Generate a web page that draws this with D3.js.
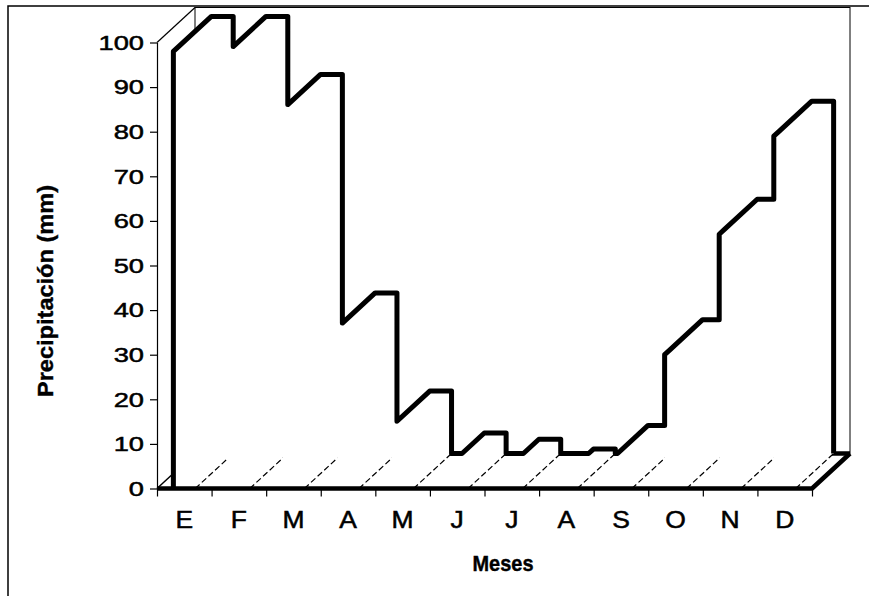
<!DOCTYPE html>
<html>
<head>
<meta charset="utf-8">
<script src="https://cdn.jsdelivr.net/npm/d3@7"></script>
<style>
  body { margin: 0; background: #fff; }
  text { font-family: "Liberation Sans", Arial, sans-serif; fill: #000; }
</style>
</head>
<body>
<script>
// datos: precipitación media mensual (mm)
const meses = ["E", "F", "M", "A", "M", "J", "J", "A", "S", "O", "N", "D"];
const precipitacion = [98, 98, 85, 36, 14, 4.6, 3.2, 1.0, 6.3, 30, 57, 79];
const yTicks = [0, 10, 20, 30, 40, 50, 60, 70, 80, 90, 100];

const svgWidth = 869, svgHeight = 596;
// front face of the 3d box and the depth offset
const x0 = 157, x1 = 812, yBottom = 488.5, yTopv = 42.5;
const dx = 38, dy = -35;

const svg = d3.select("body").append("svg")
  .attr("width", svgWidth)
  .attr("height", svgHeight);

// scales
const x = d3.scaleBand()
  .domain(d3.range(meses.length))
  .range([x0, x1])
  .paddingInner(0.6)
  .paddingOuter(0.3);
const xEdge = d3.scaleLinear().domain([0, meses.length]).range([x0, x1]);
const y = d3.scaleLinear().domain([0, 100]).range([yBottom, yTopv]);

const yBack = y(0) + dy;

// chart border (scan only shows left + top)
svg.append("path")
  .attr("d", "M8," + svgHeight + " V6 H" + svgWidth)
  .attr("fill", "none").attr("stroke", "#000").attr("stroke-width", 1.5);

/*
 *  W A L L S  /  F L O O R
 */
const walls = svg.append("g").attr("fill", "none").attr("stroke", "#000");
// back wall
walls.append("rect")
  .attr("x", x0 + dx).attr("y", y(100) + dy)
  .attr("width", x1 - x0).attr("height", y(0) - y(100))
  .attr("stroke-width", 1);
// left wall top edge
walls.append("line")
  .attr("x1", x0).attr("y1", y(100)).attr("x2", x0 + dx).attr("y2", y(100) + dy)
  .attr("stroke-width", 1.2);
// floor left edge
walls.append("line")
  .attr("x1", x0).attr("y1", y(0)).attr("x2", x0 + dx).attr("y2", yBack)
  .attr("stroke-width", 1.5);
// floor back edge (thick)
walls.append("line")
  .attr("x1", x0 + dx).attr("y1", yBack).attr("x2", x1 + dx).attr("y2", yBack)
  .attr("stroke-width", 4.5);

/*
 *  C O L U M N S
 */
const cols = precipitacion.map((v, i) => ({ A: x(i), B: x(i) + x.bandwidth(), t: y(v) }));

const colG = svg.append("g");
cols.forEach(c => {
  const g = colG.append("g");
  g.append("polygon")
    .attr("points", [
      [c.A, y(0)], [c.A, c.t], [c.A + dx, c.t + dy],
      [c.B + dx, c.t + dy], [c.B + dx, yBack], [c.B, y(0)]
    ].map(p => p.join(",")).join(" "))
    .attr("fill", "#fff");
  // bottom edge of the side face, faint in the scan
  g.append("line")
    .attr("x1", c.B).attr("y1", y(0))
    .attr("x2", c.B + dx).attr("y2", yBack)
    .attr("stroke", "#000").attr("stroke-width", 1.2)
    .attr("stroke-dasharray", "6,3");
});

// upper silhouette of all the columns (clamped to the floor back edge)
function topAt(c, px) {
  if (px < c.A || px > c.B + dx) return null;
  return px <= c.A + dx ? c.t + (px - c.A) * dy / dx : c.t + dy;
}
function envelope(px) {
  let e = yBack;
  cols.forEach(c => {
    const t = topAt(c, px);
    if (t !== null && t < e) e = t;
  });
  return e;
}
let bx = [];
cols.forEach((c, i) => {
  bx.push(c.A, c.A + dx, c.B + dx);
  const xf = c.A + (yBack - c.t) * dx / dy;
  if (xf > c.A && xf < c.A + dx) bx.push(xf);
  if (i > 0) {
    const p = cols[i - 1];
    const xs = c.A + ((p.t + dy) - c.t) * dx / dy;
    if (xs > c.A && xs < p.B + dx) bx.push(xs);
  }
});
bx.sort((a, b) => a - b);
const pts = [[cols[0].A, y(0)]];
bx.forEach(px => {
  const l = envelope(px - 1e-6), r = envelope(px + 1e-6);
  pts.push([px, l]);
  if (Math.abs(l - r) > 0.01) pts.push([px, r]);
});

svg.append("path")
  .attr("d", d3.line()(pts))
  .attr("fill", "none")
  .attr("stroke", "#000")
  .attr("stroke-width", 5)
  .attr("stroke-linejoin", "round");

// floor front + right edge (thick)
svg.append("path")
  .attr("d", d3.line()([[x0, y(0)], [x1, y(0)], [x1 + dx, yBack]]))
  .attr("fill", "none").attr("stroke", "#000").attr("stroke-width", 4.5)
  .attr("stroke-linejoin", "round");

/*
 *  A X I S
 */
const yAxis = svg.append("g")
  .attr("transform", "translate(" + x0 + ",0)")
  .call(d3.axisLeft(y).tickValues(yTicks).tickSize(7).tickSizeOuter(0).tickPadding(3));
yAxis.select(".domain").attr("stroke-width", 1.2);
yAxis.selectAll(".tick line").attr("stroke-width", 1.2);
yAxis.selectAll(".tick text")
  .attr("font-size", 21)
  .attr("font-family", null)
  .attr("stroke", "#000").attr("stroke-width", 0.5)
  .attr("transform", "scale(1.3,1)");

// tick marks on category boundaries
const xTicks = svg.append("g")
  .attr("transform", "translate(0," + y(0) + ")")
  .call(d3.axisBottom(xEdge).tickValues(d3.range(meses.length + 1)).tickSize(8).tickFormat(""));
xTicks.select(".domain").remove();
xTicks.selectAll(".tick line").attr("stroke-width", 1.2);

// month labels at band centres
const xLabels = svg.append("g")
  .attr("transform", "translate(0," + y(0) + ")")
  .call(d3.axisBottom(x).tickSize(0).tickPadding(23).tickFormat(i => meses[i]));
xLabels.select(".domain").remove();
xLabels.selectAll(".tick text")
  .attr("font-size", 23)
  .attr("font-family", null)
  .attr("stroke", "#000").attr("stroke-width", 0.5)
  .attr("transform", "scale(1.15,1)");

// axis titles
svg.append("text")
  .attr("transform", "translate(53,291) rotate(-90)")
  .attr("text-anchor", "middle")
  .attr("font-size", 22)
  .attr("font-weight", "bold")
  .attr("stroke", "#000").attr("stroke-width", 0.4)
  .attr("textLength", 212)
  .attr("lengthAdjust", "spacingAndGlyphs")
  .text("Precipitación (mm)");

svg.append("text")
  .attr("x", 503).attr("y", 571)
  .attr("text-anchor", "middle")
  .attr("font-size", 22)
  .attr("font-weight", "bold")
  .attr("stroke", "#000").attr("stroke-width", 0.4)
  .attr("textLength", 61)
  .attr("lengthAdjust", "spacingAndGlyphs")
  .text("Meses");
</script>
</body>
</html>
